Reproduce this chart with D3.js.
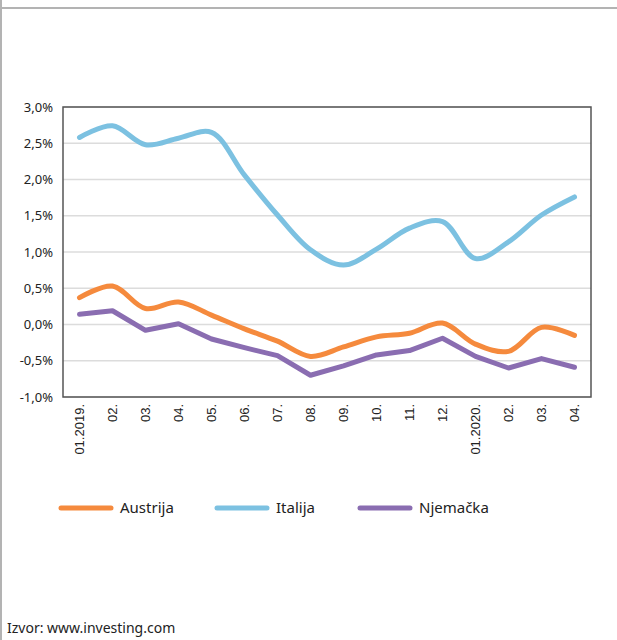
<!DOCTYPE html>
<html>
<head>
<meta charset="utf-8">
<script src="https://cdn.jsdelivr.net/npm/d3@7"></script>
<style>
  html, body { margin: 0; background: #fff; overflow: hidden; }
  svg { display: block; font-family: "Noto Sans", sans-serif; }
</style>
</head>
<body>
<div id="chartArea"></div>
<script>
// monthly values, %
const months = ["01.2019.", "02.", "03.", "04.", "05.", "06.", "07.", "08.",
  "09.", "10.", "11.", "12.", "01.2020.", "02.", "03.", "04."];
const austrija = [0.37, 0.53, 0.22, 0.31, 0.13, -0.06, -0.23, -0.44, -0.31, -0.17, -0.12, 0.02, -0.27, -0.37, -0.04, -0.15];
const italija = [2.58, 2.74, 2.48, 2.57, 2.65, 2.06, 1.51, 1.03, 0.82, 1.04, 1.33, 1.42, 0.91, 1.14, 1.51, 1.76];
const njemacka = [0.14, 0.19, -0.08, 0.01, -0.20, -0.32, -0.43, -0.70, -0.57, -0.42, -0.36, -0.19, -0.44, -0.60, -0.47, -0.59];
const yTicks = [-1, -0.5, 0, 0.5, 1, 1.5, 2, 2.5, 3];

const series = [
  { name: "Austrija", values: austrija, color: "#f58a3d", curve: d3.curveCatmullRom.alpha(0.5) },
  { name: "Italija", values: italija, color: "#7cc1e1", curve: d3.curveCatmullRom.alpha(0.5) },
  { name: "Njemačka", values: njemacka, color: "#8a6db1", curve: d3.curveLinear }
];

const width = 617, height = 640;
const plot = { left: 63, right: 591, top: 107, bottom: 397 };

const svg = d3.select("#chartArea").append("svg")
  .attr("width", width).attr("height", height);

// outer frame lines
svg.append("line").attr("x1", 0).attr("x2", width).attr("y1", 8).attr("y2", 8)
  .attr("stroke", "#b3b3b3").attr("stroke-width", 2);
svg.append("line").attr("x1", 1).attr("x2", 1).attr("y1", 0).attr("y2", height)
  .attr("stroke", "#b3b3b3").attr("stroke-width", 2);

const xScale = d3.scaleBand().domain(months.map((m, i) => i))
  .range([plot.left, plot.right]);
const yScale = d3.scaleLinear().domain([-1, 3]).range([plot.bottom, plot.top]);
const fmt = (v) => d3.format(".1f")(v).replace(".", ",").replace("−", "-") + "%";

// grid
svg.append("g").selectAll("line").data(yTicks).join("line")
  .attr("x1", plot.left).attr("x2", plot.right)
  .attr("y1", (d) => yScale(d)).attr("y2", (d) => yScale(d))
  .attr("stroke", "#dcdcdc").attr("stroke-width", 1.5);

// y labels
const yAxis = svg.append("g").attr("transform", `translate(${plot.left}, 0)`)
  .call(d3.axisLeft(yScale).tickValues(yTicks).tickFormat(fmt).tickSize(0).tickPadding(10));
yAxis.select(".domain").remove();
yAxis.selectAll("text").attr("font-size", 13).attr("fill", "#222")
  .attr("font-family", "Noto Sans");

// x labels
const xAxis = svg.append("g").attr("transform", `translate(0, ${plot.bottom})`)
  .call(d3.axisBottom(xScale).tickFormat((i) => months[i]).tickSize(0));
xAxis.select(".domain").remove();
xAxis.selectAll("text")
  .attr("font-size", 13).attr("fill", "#222")
  .attr("transform", "rotate(-90)")
  .attr("x", -7).attr("y", 0).attr("dy", "0.35em")
  .style("text-anchor", "end");

// lines
const line = (s) => d3.line()
  .x((d, i) => xScale(i) + xScale.bandwidth() / 2)
  .y((d) => yScale(d))
  .curve(s.curve);

svg.append("g").selectAll("path").data(series).join("path")
  .attr("d", (s) => line(s)(s.values))
  .attr("fill", "none")
  .attr("stroke", (s) => s.color)
  .attr("stroke-width", 5)
  .attr("stroke-linejoin", "round")
  .attr("stroke-linecap", "round");

// plot frame
svg.append("rect")
  .attr("x", plot.left).attr("y", plot.top)
  .attr("width", plot.right - plot.left).attr("height", plot.bottom - plot.top)
  .attr("fill", "none").attr("stroke", "#555").attr("stroke-width", 1.5);

// legend
const legendX = [61, 217, 360];
const legend = svg.append("g").selectAll("g").data(series).join("g")
  .attr("transform", (s, i) => `translate(${legendX[i]}, 508)`);
legend.append("line").attr("x1", 0).attr("x2", 50).attr("y1", 0).attr("y2", 0)
  .attr("stroke", (s) => s.color).attr("stroke-width", 5).attr("stroke-linecap", "round");
legend.append("text").attr("x", 59).attr("y", 0).attr("dy", "0.35em")
  .attr("font-size", 15).attr("fill", "#222").text((s) => s.name);

// source
svg.append("text").attr("x", 7).attr("y", 633)
  .attr("font-size", 14).attr("fill", "#222")
  .text("Izvor: www.investing.com");
</script>
</body>
</html>
